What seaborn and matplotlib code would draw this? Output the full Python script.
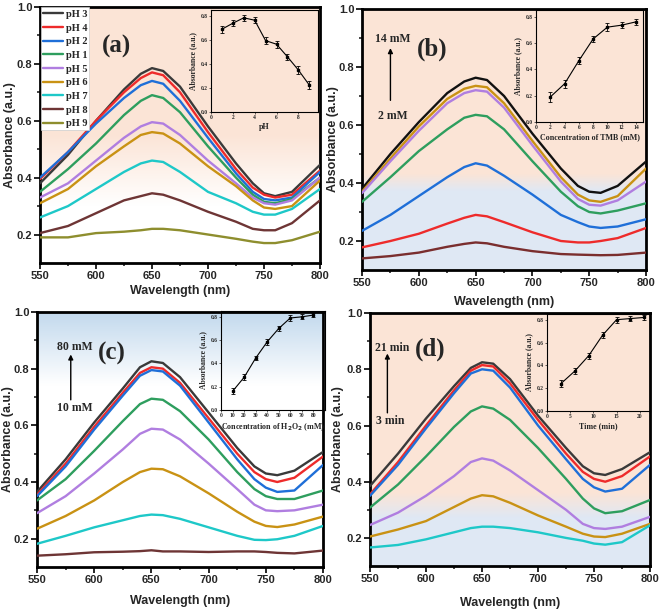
import numpy as np
import matplotlib
matplotlib.use("Agg")
import matplotlib.pyplot as plt
import seaborn as sns

# wavelengths (nm)
wl = [550, 575, 600, 625, 640, 650, 660, 675, 700, 725, 740, 750, 760, 775, 800]

# (a) pH series, legend order
ph_labels = ["pH 3", "pH 4", "pH 2", "pH 1", "pH 5", "pH 6", "pH 7", "pH 8", "pH 9"]
ph3 = [0.38, 0.48, 0.60, 0.71, 0.765, 0.785, 0.775, 0.72, 0.58, 0.45, 0.38, 0.345, 0.335, 0.35, 0.445]
ph4 = [0.395, 0.49, 0.60, 0.70, 0.75, 0.77, 0.76, 0.70, 0.56, 0.43, 0.365, 0.34, 0.33, 0.34, 0.425]
ph2 = [0.40, 0.49, 0.59, 0.68, 0.725, 0.74, 0.73, 0.67, 0.54, 0.415, 0.35, 0.325, 0.32, 0.33, 0.42]
ph1 = [0.35, 0.43, 0.52, 0.62, 0.67, 0.69, 0.68, 0.63, 0.51, 0.40, 0.34, 0.315, 0.31, 0.325, 0.40]
ph5 = [0.33, 0.38, 0.46, 0.54, 0.58, 0.595, 0.59, 0.55, 0.46, 0.38, 0.33, 0.31, 0.305, 0.32, 0.40]
ph6 = [0.31, 0.36, 0.44, 0.51, 0.55, 0.56, 0.555, 0.52, 0.44, 0.37, 0.32, 0.295, 0.29, 0.30, 0.39]
ph7 = [0.26, 0.30, 0.36, 0.42, 0.45, 0.46, 0.455, 0.42, 0.35, 0.31, 0.28, 0.27, 0.27, 0.29, 0.36]
ph8 = [0.205, 0.23, 0.275, 0.32, 0.335, 0.345, 0.34, 0.32, 0.28, 0.245, 0.22, 0.215, 0.215, 0.24, 0.32]
ph9 = [0.19, 0.19, 0.205, 0.21, 0.215, 0.22, 0.22, 0.215, 0.20, 0.185, 0.175, 0.17, 0.17, 0.18, 0.21]
ph_inset_x = [1, 2, 3, 4, 5, 6, 7, 8, 9]
ph_inset_y = [0.69, 0.74, 0.785, 0.765, 0.595, 0.565, 0.46, 0.35, 0.225]
ph_inset_err = [0.03, 0.025, 0.025, 0.025, 0.03, 0.03, 0.025, 0.03, 0.03]

# (b) TMB series, top to bottom
tmb_14 = [0.38, 0.50, 0.61, 0.71, 0.75, 0.763, 0.755, 0.70, 0.57, 0.45, 0.39, 0.37, 0.366, 0.39, 0.474]
tmb_12 = [0.37, 0.485, 0.595, 0.69, 0.725, 0.735, 0.73, 0.675, 0.545, 0.42, 0.36, 0.34, 0.335, 0.355, 0.45]
tmb_10 = [0.365, 0.475, 0.58, 0.675, 0.71, 0.72, 0.715, 0.66, 0.53, 0.405, 0.345, 0.325, 0.322, 0.34, 0.405]
tmb_8 = [0.335, 0.42, 0.51, 0.585, 0.625, 0.635, 0.63, 0.585, 0.475, 0.37, 0.32, 0.30, 0.295, 0.305, 0.33]
tmb_6 = [0.235, 0.29, 0.355, 0.42, 0.455, 0.468, 0.46, 0.425, 0.36, 0.29, 0.265, 0.25, 0.245, 0.25, 0.275]
tmb_4 = [0.178, 0.20, 0.225, 0.26, 0.28, 0.29, 0.285, 0.265, 0.23, 0.20, 0.195, 0.195, 0.20, 0.21, 0.245]
tmb_2 = [0.14, 0.148, 0.16, 0.18, 0.19, 0.195, 0.192, 0.18, 0.165, 0.155, 0.153, 0.152, 0.151, 0.152, 0.16]
tmb_inset_x = [2, 4, 6, 8, 10, 12, 14]
tmb_inset_y = [0.19, 0.29, 0.465, 0.63, 0.72, 0.735, 0.76]
tmb_inset_err = [0.035, 0.03, 0.025, 0.025, 0.03, 0.025, 0.02]

# (c) H2O2 series, top to bottom
h2o2_80 = [0.365, 0.48, 0.61, 0.73, 0.805, 0.826, 0.82, 0.77, 0.645, 0.52, 0.455, 0.43, 0.424, 0.44, 0.506]
h2o2_70 = [0.355, 0.465, 0.595, 0.715, 0.785, 0.805, 0.80, 0.75, 0.625, 0.50, 0.435, 0.41, 0.40, 0.415, 0.49]
h2o2_60 = [0.35, 0.455, 0.585, 0.705, 0.775, 0.795, 0.79, 0.74, 0.61, 0.48, 0.41, 0.38, 0.365, 0.37, 0.46]
h2o2_50 = [0.335, 0.41, 0.51, 0.615, 0.675, 0.694, 0.69, 0.65, 0.55, 0.435, 0.375, 0.35, 0.34, 0.34, 0.37]
h2o2_40 = [0.29, 0.35, 0.43, 0.515, 0.57, 0.588, 0.585, 0.55, 0.465, 0.375, 0.32, 0.30, 0.297, 0.30, 0.32]
h2o2_30 = [0.235, 0.28, 0.335, 0.40, 0.435, 0.447, 0.445, 0.42, 0.36, 0.295, 0.26, 0.245, 0.241, 0.25, 0.278]
h2o2_20 = [0.182, 0.21, 0.24, 0.265, 0.28, 0.285, 0.283, 0.27, 0.24, 0.21, 0.196, 0.195, 0.198, 0.21, 0.245]
h2o2_10 = [0.14, 0.145, 0.152, 0.154, 0.156, 0.159, 0.155, 0.155, 0.153, 0.155, 0.155, 0.153, 0.15, 0.148, 0.158]
h2o2_inset_x = [10, 20, 30, 40, 50, 60, 70, 80]
h2o2_inset_y = [0.16, 0.28, 0.445, 0.585, 0.70, 0.79, 0.80, 0.815]
h2o2_inset_err = [0.025, 0.025, 0.02, 0.025, 0.025, 0.025, 0.02, 0.02]

# (d) time series, top to bottom
t_21 = [0.385, 0.50, 0.625, 0.74, 0.805, 0.825, 0.82, 0.765, 0.635, 0.52, 0.455, 0.43, 0.424, 0.445, 0.505]
t_18 = [0.355, 0.47, 0.60, 0.725, 0.795, 0.815, 0.81, 0.75, 0.62, 0.50, 0.435, 0.41, 0.40, 0.42, 0.49]
t_15 = [0.35, 0.46, 0.59, 0.715, 0.785, 0.80, 0.795, 0.735, 0.60, 0.48, 0.41, 0.38, 0.365, 0.375, 0.46]
t_12 = [0.308, 0.39, 0.49, 0.595, 0.65, 0.668, 0.66, 0.62, 0.52, 0.41, 0.34, 0.305, 0.288, 0.295, 0.335]
t_9 = [0.246, 0.29, 0.35, 0.42, 0.47, 0.483, 0.475, 0.44, 0.37, 0.30, 0.25, 0.235, 0.232, 0.24, 0.275]
t_6 = [0.205, 0.23, 0.26, 0.31, 0.34, 0.352, 0.348, 0.325, 0.28, 0.24, 0.215, 0.205, 0.203, 0.215, 0.25]
t_3 = [0.166, 0.175, 0.195, 0.22, 0.235, 0.24, 0.24, 0.235, 0.22, 0.20, 0.19, 0.18, 0.176, 0.185, 0.245]
time_inset_x = [3, 6, 9, 12, 15, 18, 21]
time_inset_y = [0.24, 0.35, 0.485, 0.665, 0.80, 0.81, 0.82]
time_inset_err = [0.03, 0.025, 0.025, 0.025, 0.025, 0.025, 0.02]

BLACK = "#3a3a3a"
RED = "#ee2b2b"
BLUE = "#1f6fd8"
GREEN = "#2e9e5e"
PURPLE = "#b07ee0"
GOLD = "#c99214"
CYAN = "#1ec8c8"
BROWN = "#6e3535"
OLIVE = "#8e8e2e"

PEACH = (0.985, 0.895, 0.84)
LBLUE = (0.875, 0.91, 0.96)
TBLUE = (0.76, 0.85, 0.93)
WHITE = (1.0, 1.0, 1.0)

sns.set_theme(style="ticks")
plt.rcParams["font.family"] = ["Liberation Sans", "DejaVu Sans"]
SERIF = ["Liberation Serif", "DejaVu Serif"]

fig = plt.figure(figsize=(6.61, 6.11), dpi=100)


def background(ax, stops):
    ys = np.linspace(0.1, 1.0, 300)
    sy = [s[0] for s in stops]
    img = np.zeros((len(ys), 1, 3))
    for k in range(3):
        img[:, 0, k] = np.interp(ys, sy, [s[1][k] for s in stops])
    ax.imshow(img, extent=(550, 800, 0.1, 1.0), origin="lower",
              aspect="auto", zorder=0, interpolation="bilinear")


def main_axes(rect, stops, xlab_y, ylab_x):
    ax = fig.add_axes(rect)
    background(ax, stops)
    ax.set_xlim(550, 800)
    ax.set_ylim(0.1, 1.0)
    ax.set_xticks([550, 600, 650, 700, 750, 800])
    ax.set_xticks([575, 625, 675, 725, 775], minor=True)
    ax.set_yticks([0.2, 0.4, 0.6, 0.8, 1.0])
    ax.set_yticks([0.3, 0.5, 0.7, 0.9], minor=True)
    ax.tick_params(which="major", length=4, width=1.4, labelsize=8, direction="out", pad=1.5)
    ax.tick_params(which="minor", length=2.5, width=1.2, direction="out")
    for lab in ax.get_xticklabels() + ax.get_yticklabels():
        lab.set_fontweight("bold")
    for s in ax.spines.values():
        s.set_linewidth(2.0)
        s.set_color("black")
    ax.set_xlabel("Wavelength (nm)", fontsize=9, fontweight="bold")
    ax.set_ylabel("Absorbance (a.u.)", fontsize=9, fontweight="bold")
    ax.xaxis.set_label_coords(0.5, xlab_y)
    ax.yaxis.set_label_coords(ylab_x, 0.5)
    return ax


def inset(rect, x, y, err, xlim, xticks, xlabel):
    ax = fig.add_axes(rect)
    ax.set_facecolor("none")
    sns.lineplot(x=x, y=y, ax=ax, color="black", lw=0.8)
    ax.errorbar(x, y, yerr=err, fmt="s", ms=2, color="black",
                capsize=1.5, elinewidth=0.6, capthick=0.6)
    ax.set_xlim(*xlim)
    ax.set_ylim(0, 0.85)
    ax.set_xticks(xticks)
    ax.set_yticks([0.0, 0.2, 0.4, 0.6, 0.8])
    ax.yaxis.set_major_formatter(matplotlib.ticker.FormatStrFormatter("%.1f"))
    ax.tick_params(length=1.5, width=0.5, labelsize=4, pad=1)
    for lab in ax.get_xticklabels() + ax.get_yticklabels():
        lab.set_family(SERIF)
        lab.set_fontweight("bold")
    for s in ax.spines.values():
        s.set_linewidth(0.8)
        s.set_color("black")
    ax.set_xlabel(xlabel, fontsize=5.8, fontweight="bold", family=SERIF, labelpad=2)
    ax.set_ylabel("Absorbance (a.u.)", fontsize=5.5, fontweight="bold", family=SERIF, labelpad=2)
    return ax


def curves(ax, series, colors, labels=None):
    for i, (vals, c) in enumerate(zip(series, colors)):
        lab = labels[i] if labels else None
        sns.lineplot(x=wl, y=vals, ax=ax, color=c, lw=1.7, label=lab, legend=False, zorder=3)


def serif_text(ax, x, y, s, size):
    ax.text(x, y, s, fontsize=size, fontweight="bold", family=SERIF,
            ha="center", va="center", zorder=5)


def arrow(ax, x, y0, y1):
    ax.annotate("", xy=(x, y1), xytext=(x, y0), zorder=5,
                arrowprops=dict(arrowstyle="-|>", color="black", lw=1.0,
                                mutation_scale=7, shrinkA=0, shrinkB=0))


# ---- (a) ----
ax_a = main_axes([0.0605, 0.5696, 0.4236, 0.419],
                 [(0.1, WHITE), (0.3, WHITE), (0.55, PEACH), (1.0, PEACH)], -0.085, -0.085)
curves(ax_a, [ph3, ph4, ph2, ph1, ph5, ph6, ph7, ph8, ph9],
       [BLACK, RED, BLUE, GREEN, PURPLE, GOLD, CYAN, BROWN, OLIVE], ph_labels)
leg = ax_a.legend(loc="upper left", borderaxespad=0.05, frameon=True, fancybox=False,
                  prop={"family": SERIF, "weight": "bold", "size": 7.5},
                  handlelength=2.0, handletextpad=0.2, labelspacing=0.42,
                  borderpad=0.2)
leg.get_frame().set_facecolor("white")
leg.get_frame().set_edgecolor("#cccccc")
leg.get_frame().set_linewidth(0.5)
leg.get_frame().set_alpha(1.0)
serif_text(ax_a, 618, 0.86, "(a)", 18)
inset([0.3192, 0.8167, 0.1619, 0.1669], ph_inset_x, ph_inset_y, ph_inset_err,
      (0, 9.8), [0, 2, 4, 6, 8], "pH")

# ---- (b) ----
ax_b = main_axes([0.5477, 0.5581, 0.4297, 0.4272],
                 [(0.1, LBLUE), (0.37, LBLUE), (0.43, PEACH), (1.0, PEACH)], -0.10, -0.082)
curves(ax_b, [tmb_14, tmb_12, tmb_10, tmb_8, tmb_6, tmb_4, tmb_2],
       ["#111111", GOLD, PURPLE, GREEN, BLUE, RED, "#7a2e2e"])
serif_text(ax_b, 577, 0.895, "14 mM", 8.5)
serif_text(ax_b, 577, 0.63, "2 mM", 8.5)
arrow(ax_b, 575, 0.685, 0.865)
serif_text(ax_b, 612, 0.86, "(b)", 18)
inset([0.8109, 0.8003, 0.1619, 0.1833], tmb_inset_x, tmb_inset_y, tmb_inset_err,
      (0, 15), [0, 2, 4, 6, 8, 10, 12, 14], "Concentration of TMB (mM)")

# ---- (c) ----
ax_c = main_axes([0.056, 0.072, 0.4327, 0.4174],
                 [(0.1, WHITE), (0.74, WHITE), (1.0, TBLUE)], -0.108, -0.082)
curves(ax_c, [h2o2_80, h2o2_70, h2o2_60, h2o2_50, h2o2_40, h2o2_30, h2o2_20, h2o2_10],
       [BLACK, RED, BLUE, GREEN, PURPLE, GOLD, CYAN, BROWN])
serif_text(ax_c, 583, 0.876, "80 mM", 8.5)
serif_text(ax_c, 583, 0.66, "10 mM", 8.5)
arrow(ax_c, 579.5, 0.69, 0.85)
serif_text(ax_c, 615, 0.853, "(c)", 18)
inset([0.3343, 0.329, 0.1573, 0.162], h2o2_inset_x, h2o2_inset_y, h2o2_inset_err,
      (0, 90), [0, 10, 20, 30, 40, 50, 60, 70, 80],
      "Concentration of H$_\\mathbf{2}$O$_\\mathbf{2}$ (mM)")

# ---- (d) ----
ax_d = main_axes([0.5598, 0.0736, 0.4236, 0.414],
                 [(0.1, LBLUE), (0.27, LBLUE), (0.36, PEACH), (1.0, PEACH)], -0.122, -0.092)
curves(ax_d, [t_21, t_18, t_15, t_12, t_9, t_6, t_3],
       [BLACK, RED, BLUE, GREEN, PURPLE, GOLD, CYAN])
serif_text(ax_d, 570, 0.876, "21 min", 8.5)
serif_text(ax_d, 568, 0.615, "3 min", 8.5)
arrow(ax_d, 565.5, 0.645, 0.856)
serif_text(ax_d, 604, 0.87, "(d)", 18)
inset([0.8275, 0.3273, 0.1558, 0.1588], time_inset_x, time_inset_y, time_inset_err,
      (0, 22.2), [0, 5, 10, 15, 20], "Time (min)")

fig.savefig("out.png", dpi=100)
